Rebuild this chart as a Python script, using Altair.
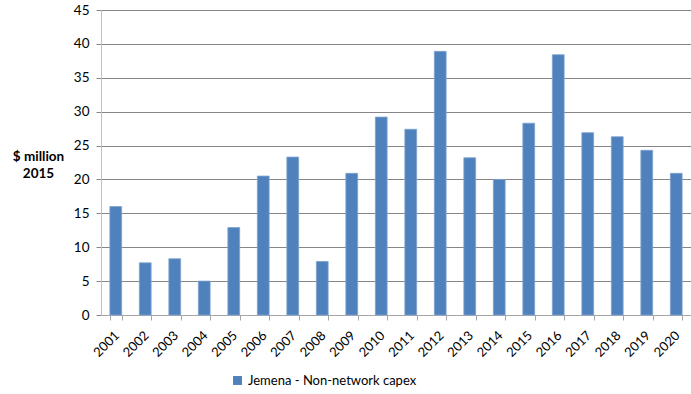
import altair as alt
import pandas as pd

years = [str(y) for y in range(2001, 2021)]
values = [16.0, 7.7, 8.3, 5.0, 12.9, 20.5, 23.3, 7.9, 20.9, 29.2,
          27.4, 38.9, 23.2, 20.0, 28.3, 38.4, 26.9, 26.3, 24.3, 20.9]
series = ["Jemena - Non-network capex"] * len(years)

df = pd.DataFrame({"year": years, "value": values, "series": series})

FONT = "Lato"

chart = alt.Chart(df).mark_bar(
    color="#4F81BD", stroke="#7FA3D1", strokeWidth=0.8
).encode(
    x=alt.X("year:N", title=None,
            scale=alt.Scale(paddingInner=0.6, paddingOuter=0.3),
            axis=alt.Axis(labelAngle=-45, labelAlign="right", labelBaseline="middle",
                          labelPadding=13, labelOffset=1, tickBand="extent", tickSize=5,
                          tickColor="#A6A6A6", domainColor="#A6A6A6",
                          labelFont=FONT, labelFontSize=13, labelColor="#000000")),
    y=alt.Y("value:Q",
            scale=alt.Scale(domain=[0, 45], nice=False),
            axis=alt.Axis(values=list(range(0, 46, 5)), tickSize=5, labelPadding=7,
                          tickColor="#868686", domainColor="#BFBFBF",
                          gridColor="#868686", gridWidth=1,
                          labelFont=FONT, labelFontSize=13.5, labelColor="#000000",
                          title=["$ million", "2015"], titleAngle=0, titleAlign="center",
                          titleBaseline="top", titleX=-63, titleY=139,
                          titleFont=FONT, titleFontSize=13.5, titleFontWeight="bold",
                          titleLineHeight=17, titleColor="#000000")),
    color=alt.Color("series:N", scale=alt.Scale(range=["#4F81BD"]),
                    legend=alt.Legend(title=None, orient="none", legendX=130, legendY=364,
                                      symbolType="square", symbolSize=80,
                                      symbolStrokeWidth=0, labelLimit=0,
                                      labelFont=FONT, labelFontSize=13,
                                      labelColor="#000000")),
).properties(
    width=590, height=305,
    autosize=alt.AutoSizeParams(type="none"),
    padding={"left": 101, "top": 10, "right": 0, "bottom": 79},
).configure_view(stroke=None)

chart.save("out.html", embed_options={"renderer": "svg", "actions": False})
